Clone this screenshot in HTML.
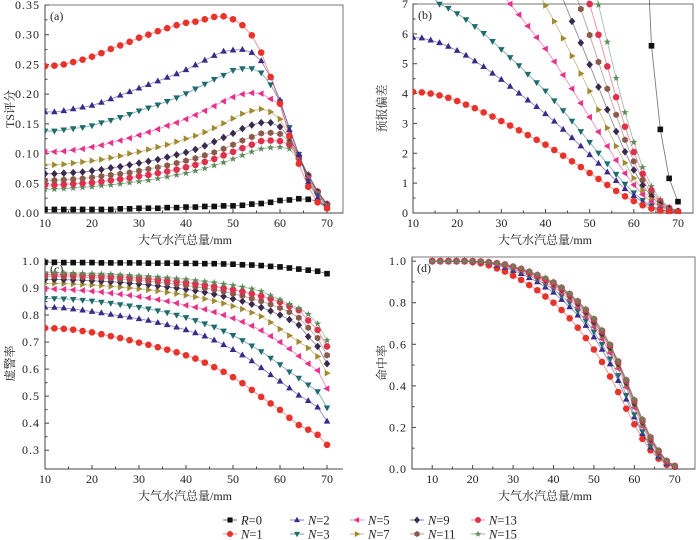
<!DOCTYPE html>
<html><head><meta charset="utf-8">
<style>
html,body{margin:0;padding:0;background:#fff;}
svg{display:block;}
text{font-family:"Liberation Serif","Noto Serif CJK SC",serif;fill:#222;}
.cjk{font-family:"Liberation Serif","Noto Serif CJK SC",serif;}
</style></head>
<body>
<svg id="fig" width="700" height="540" viewBox="0 0 700 540" xmlns="http://www.w3.org/2000/svg"></svg>
<script>
const xVals = [10,12,14,16,18,20,22,24,26,28,30,32,34,36,38,40,42,44,46,48,50,52,54,56,58,60,62,64,66,68,70];
const seriesNames = ['R=0','N=1','N=2','N=3','N=5','N=7','N=9','N=11','N=13','N=15'];
const seriesColors = ['#111111','#e8322a','#3a2a8a','#1f6b6e','#e8308a','#a08a30','#3a2a50','#8a5a4a','#e0304e','#5a8a5a'];
const seriesMarkers = ['square','circle','tri-up','tri-down','tri-left','tri-right','diamond','hexagon','circle','star'];

// Panel (a) TS score
const tsR0 = [.006,.006,.006,.006,.006,.006,.006,.006,.007,.007,.008,.008,.008,.009,.009,.010,.010,.011,.011,.012,.012,.013,.015,.016,.018,.021,.022,.024,.023,.020,.010];
const tsN1 = [.247,.248,.250,.254,.258,.263,.269,.276,.282,.288,.295,.300,.306,.311,.316,.320,.322,.326,.330,.331,.326,.316,.299,.270,.229,.184,.130,.083,.044,.018,.008];
const tsN2 = [.170,.170,.172,.175,.178,.181,.186,.192,.198,.204,.210,.216,.222,.228,.234,.241,.249,.257,.265,.272,.274,.275,.270,.256,.228,.190,.140,.098,.052,.025,.008];
const tsN3 = [.138,.138,.140,.142,.144,.147,.152,.156,.161,.166,.172,.177,.182,.188,.194,.201,.209,.217,.225,.232,.240,.243,.243,.236,.216,.187,.144,.099,.054,.030,.010];
const tsN5 = [.103,.103,.104,.106,.108,.111,.114,.118,.122,.126,.131,.136,.141,.147,.152,.158,.165,.172,.180,.188,.195,.200,.202,.201,.192,.183,.132,.096,.058,.032,.012];
const tsN7 = [.081,.081,.082,.084,.086,.088,.090,.093,.096,.100,.103,.107,.111,.115,.120,.125,.130,.136,.143,.151,.159,.167,.172,.175,.170,.158,.128,.095,.060,.034,.013];
const tsN9 = [.066,.066,.067,.068,.069,.071,.073,.076,.078,.081,.084,.087,.090,.094,.098,.102,.107,.113,.120,.127,.134,.142,.148,.152,.152,.145,.127,.097,.062,.035,.014];
const tsN11 = [.055,.055,.056,.057,.058,.060,.062,.064,.066,.068,.071,.074,.077,.080,.084,.088,.092,.097,.102,.108,.115,.122,.128,.134,.135,.133,.120,.095,.064,.036,.014];
const tsN13 = [.047,.047,.048,.049,.050,.051,.053,.055,.057,.059,.062,.064,.067,.070,.073,.077,.081,.086,.091,.097,.103,.109,.115,.121,.122,.121,.115,.092,.063,.036,.015];
const tsN15 = [.040,.040,.041,.042,.043,.044,.046,.047,.049,.051,.053,.055,.058,.061,.064,.067,.071,.075,.080,.085,.091,.097,.103,.108,.110,.111,.108,.090,.065,.037,.016];

// Panel (b) bias (null = far above the axis)
const biasR0 = [null,null,null,null,null,null,null,null,null,null,null,null,null,null,null,null,null,null,null,null,null,null,null,null,null,null,12,5.60,2.80,1.16,0.38];
const biasN1 = [4.06,4.04,4.00,3.94,3.86,3.75,3.63,3.51,3.37,3.23,3.08,2.93,2.77,2.61,2.45,2.29,2.11,1.92,1.73,1.54,1.34,1.14,0.94,0.74,0.56,0.40,0.26,0.15,0.08,0.04,0.02];
const biasN2 = [5.88,5.86,5.79,5.70,5.58,5.44,5.28,5.09,4.90,4.68,4.47,4.24,4.01,3.78,3.56,3.32,3.07,2.80,2.52,2.24,1.95,1.66,1.37,1.08,0.81,0.58,0.36,0.20,0.10,0.05,0.02];
const biasN3 = [7.8,7.55,7.3,7.0,6.86,6.68,6.48,6.25,6.02,5.75,5.48,5.21,4.94,4.65,4.37,4.09,3.76,3.43,3.08,2.73,2.37,2.01,1.65,1.30,0.97,0.68,0.43,0.24,0.12,0.06,0.03];
const biasN5 = [null,null,null,null,null,null,null,null,null,null,7.35,7.0,6.64,6.26,5.88,5.50,5.07,4.62,4.16,3.68,3.21,2.72,2.24,1.77,1.33,0.94,0.62,0.37,0.20,0.10,0.04];
const biasN7 = [null,null,null,null,null,null,null,null,null,null,null,null,null,null,7.5,6.95,6.42,5.85,5.26,4.67,4.08,3.46,2.85,2.24,1.68,1.17,0.76,0.45,0.24,0.11,0.05];
const biasN9 = [null,null,null,null,null,null,null,null,null,null,null,null,null,null,null,null,8.0,7.15,6.42,5.70,4.97,4.22,3.46,2.73,2.05,1.44,0.93,0.55,0.28,0.13,0.05];
const biasN11 = [null,null,null,null,null,null,null,null,null,null,null,null,null,null,null,null,null,null,7.7,6.83,5.96,5.06,4.16,3.29,2.45,1.73,1.11,0.65,0.34,0.15,0.06];
const biasN13 = [null,null,null,null,null,null,null,null,null,null,null,null,null,null,null,null,null,null,null,8.1,7.0,5.97,4.91,3.88,2.89,2.04,1.31,0.76,0.39,0.17,0.06];
const biasN15 = [null,null,null,null,null,null,null,null,null,null,null,null,null,null,null,null,null,null,null,null,8.2,6.97,5.73,4.52,3.37,2.37,1.53,0.89,0.45,0.19,0.07];

// Panel (c) false alarm ratio
const farR0 = [.995,.995,.994,.994,.994,.994,.993,.993,.993,.993,.993,.992,.992,.992,.992,.991,.991,.990,.990,.989,.988,.986,.985,.983,.980,.978,.974,.970,.966,.962,.953];
const farN1 = [.752,.751,.749,.746,.741,.736,.729,.722,.715,.707,.698,.690,.681,.672,.662,.651,.639,.624,.607,.590,.570,.548,.523,.497,.473,.449,.420,.393,.376,.357,.320];
const farN2 = [.829,.828,.826,.822,.818,.813,.808,.802,.797,.792,.786,.780,.772,.764,.755,.745,.734,.722,.707,.690,.672,.652,.630,.605,.579,.555,.530,.503,.483,.459,.407];
const farN3 = [.862,.861,.860,.858,.855,.852,.848,.844,.839,.834,.829,.823,.816,.809,.800,.791,.780,.768,.756,.741,.725,.706,.686,.665,.641,.617,.590,.567,.542,.517,.457];
const farN5 = [.897,.896,.895,.893,.891,.888,.885,.881,.877,.873,.868,.863,.857,.851,.844,.836,.829,.821,.811,.800,.788,.775,.760,.743,.722,.700,.675,.648,.620,.595,.528];
const farN7 = [.917,.917,.916,.915,.913,.911,.909,.906,.903,.900,.897,.893,.889,.884,.879,.873,.867,.860,.852,.843,.833,.822,.809,.795,.773,.748,.724,.701,.678,.647,.585];
const farN9 = [.932,.932,.931,.930,.929,.927,.925,.923,.921,.918,.915,.912,.908,.904,.900,.895,.890,.884,.877,.869,.860,.851,.840,.828,.815,.800,.783,.763,.720,.684,.620];
const farN11 = [.943,.943,.942,.941,.940,.938,.937,.935,.933,.931,.928,.925,.922,.918,.914,.910,.905,.900,.894,.887,.879,.871,.861,.851,.839,.826,.811,.790,.753,.715,.651];
const farN13 = [.950,.950,.949,.948,.947,.946,.944,.943,.941,.939,.937,.934,.931,.928,.924,.920,.916,.911,.906,.900,.894,.887,.879,.870,.860,.848,.833,.818,.780,.745,.684];
const farN15 = [.957,.957,.956,.955,.954,.953,.952,.951,.949,.947,.945,.943,.941,.938,.935,.932,.928,.924,.920,.915,.910,.904,.897,.888,.872,.857,.840,.825,.803,.768,.706];

// Panel (d) hit rate
const hitN1 = [1,1,1,1,1,.995,.99,.98,.965,.95,.93,.91,.885,.86,.83,.80,.765,.725,.68,.63,.575,.515,.445,.37,.29,.215,.145,.09,.05,.02,.01];
const hitN2 = [1,1,1,1,1,.998,.995,.99,.98,.97,.955,.94,.92,.90,.875,.85,.815,.78,.74,.69,.635,.575,.505,.425,.335,.25,.17,.105,.06,.025,.01];
const hitN3 = [1,1,1,1,1,.998,.996,.992,.984,.975,.962,.948,.93,.91,.888,.865,.833,.80,.76,.713,.66,.60,.53,.45,.355,.262,.18,.11,.06,.027,.01];
const hitN5 = [1,1,1,1,1,.999,.997,.993,.987,.979,.967,.954,.937,.918,.898,.876,.847,.815,.777,.733,.683,.625,.558,.483,.393,.295,.205,.128,.072,.032,.012];
const hitN7 = [1,1,1,1,1,.999,.998,.994,.988,.981,.970,.957,.941,.923,.904,.885,.857,.826,.789,.746,.697,.640,.574,.497,.407,.308,.216,.137,.078,.035,.013];
const hitN9 = [1,1,1,1,1,.999,.998,.995,.989,.982,.971,.959,.944,.927,.909,.890,.864,.833,.797,.755,.707,.651,.585,.507,.416,.317,.225,.143,.082,.037,.014];
const hitN11 = [1,1,1,1,1,1,.998,.995,.990,.983,.973,.961,.946,.930,.912,.895,.868,.838,.803,.762,.716,.660,.593,.514,.423,.325,.231,.148,.085,.038,.014];
const hitN13 = [1,1,1,1,1,1,.998,.995,.990,.984,.974,.963,.949,.933,.915,.897,.872,.842,.807,.766,.721,.665,.597,.517,.427,.330,.236,.152,.088,.039,.015];
const hitN15 = [1,1,1,1,1,1,.998,.995,.990,.985,.975,.965,.952,.937,.920,.900,.875,.845,.810,.770,.725,.670,.600,.520,.430,.335,.240,.155,.090,.040,.015];

const xTicks = [10,20,30,40,50,60,70];
const tsTicks = [0,0.05,0.10,0.15,0.20,0.25,0.30,0.35];
const biasTicks = [0,1,2,3,4,5,6,7];
const farTicks = [0.3,0.4,0.5,0.6,0.7,0.8,0.9,1.0];
const hitTicks = [0,0.2,0.4,0.6,0.8,1.0];

const NS = 'http://www.w3.org/2000/svg';
const fig = document.getElementById('fig');
function mk(tag, attrs, parent){ const e=document.createElementNS(NS,tag); for(const k in attrs) e.setAttribute(k,attrs[k]); (parent||fig).appendChild(e); return e; }

function markerShape(g, type, cx, cy, color, r){
  let e;
  if(type==='square'){ e=mk('rect',{x:cx-r*0.85,y:cy-r*0.85,width:r*1.7,height:r*1.7,fill:color},g); }
  else if(type==='circle'){ e=mk('circle',{cx:cx,cy:cy,r:r,fill:color},g); }
  else {
    let pts=[];
    if(type==='tri-up') pts=[[0,-1.1],[1,0.7],[-1,0.7]];
    else if(type==='tri-down') pts=[[0,1.1],[1,-0.7],[-1,-0.7]];
    else if(type==='tri-left') pts=[[-1.1,0],[0.7,-1],[0.7,1]];
    else if(type==='tri-right') pts=[[1.1,0],[-0.7,-1],[-0.7,1]];
    else if(type==='diamond') pts=[[0,-1.15],[1,0],[0,1.15],[-1,0]];
    else if(type==='hexagon'){ for(let i=0;i<6;i++){const a=Math.PI/6+i*Math.PI/3; pts.push([Math.cos(a),Math.sin(a)]);} }
    else if(type==='star'){ for(let i=0;i<10;i++){const a=-Math.PI/2+i*Math.PI/5; const rr=i%2?0.45:1.15; pts.push([rr*Math.cos(a),rr*Math.sin(a)]);} }
    e=mk('polygon',{points:pts.map(p=>(cx+p[0]*r).toFixed(2)+','+(cy+p[1]*r).toFixed(2)).join(' '),fill:color},g);
  }
  return e;
}

let clipId=0;
function panel(p){
  const g=mk('g',{});
  
  
  const sx=v=>p.L+(v-p.x0)/(p.x1-p.x0)*(p.R-p.L);
  const sy=v=>p.B-(v-p.y0)/(p.y1-p.y0)*(p.B-p.T);
  // frame / axes
  if(p.frame){
    const fr=mk('rect',{x:p.L,y:p.T,width:p.R-p.L,height:p.B-p.T,fill:'none',stroke:'#777','stroke-width':1},g);
    
    
  }
  const xa=mk('line',{x1:p.L,y1:p.B,x2:p.R,y2:p.B,stroke:'#444','stroke-width':1},g);
  
  
  const ya=mk('line',{x1:p.L,y1:p.T,x2:p.L,y2:p.B,stroke:'#444','stroke-width':1},g);
  
  
  // x ticks
  xTicks.forEach(t=>{
    const x=sx(t);
    mk('line',{x1:x,y1:p.B,x2:x,y2:p.B-4,stroke:'#444'},g);
    const mx=sx(t+5); if(mx<p.R-1&&mx>p.L) mk('line',{x1:mx,y1:p.B,x2:mx,y2:p.B-2.5,stroke:'#444'},g);
    if(t===10 && sx(5)>p.L) mk('line',{x1:sx(5),y1:p.B,x2:sx(5),y2:p.B-2.5,stroke:'#444'},g);
    const tl=mk('text',{x:x,y:p.B+14,'text-anchor':'middle','font-size':12},g);
    tl.textContent=t;
    
    
  });
  // y ticks
  p.yTicks.forEach((t,i)=>{
    const y=sy(t);
    mk('line',{x1:p.L,y1:y,x2:p.L+4,y2:y,stroke:'#444'},g);
    if(i<p.yTicks.length-1){ const my=sy((t+p.yTicks[i+1])/2); mk('line',{x1:p.L,y1:my,x2:p.L+2.5,y2:my,stroke:'#444'},g); }
    const tl=mk('text',{x:p.L-5,y:y+4,'text-anchor':'end','font-size':12,'letter-spacing':p.ls||0},g);
    tl.textContent=t.toFixed(p.dec);
    
    
  });
  // titles
  const xt=mk('text',{x:(p.L+p.xtc),y:p.B+31,'text-anchor':'middle','font-size':12,class:'cjk'},g);
  xt.textContent='大气水汽总量/mm';
  
  
  const yt=mk('text',{x:0,y:0,'text-anchor':'middle','font-size':12,class:'cjk',transform:`translate(${p.ytx},${(p.T+p.B)/2}) rotate(-90)`},g);
  yt.textContent=p.ytitle;
  
  
  const pl=mk('text',{x:p.L+5,y:p.T+15,'font-size':12},g);
  pl.textContent=p.label;
  
  
  // clip
  const cid='clip'+(clipId++);
  const cp=mk('clipPath',{id:cid},g);
  mk('rect',{x:p.L,y:p.T-5,width:p.R-p.L+5,height:p.B-p.T+6},cp);
  const sg=mk('g',{'clip-path':`url(#${cid})`},g);
  p.series.forEach(s=>{
    const idx=seriesNames.indexOf(s.name);
    const col=seriesColors[idx];
    const sgg=mk('g',{},sg);
    
    
    let d='', pen=false;
    xVals.forEach((xv,i)=>{ const v=s.data[i]; if(v===null||v===undefined){pen=false;return;} d+=(pen?'L':'M')+sx(xv).toFixed(2)+','+sy(v).toFixed(2); pen=true; });
    mk('path',{d:d,fill:'none',stroke:col,'stroke-opacity':0.55,'stroke-width':0.9},sgg);
    xVals.forEach((xv,i)=>{ const v=s.data[i]; if(v===null||v===undefined) return; if(v>p.y1+0.02*(p.y1-p.y0)) return;
      const m=markerShape(sgg,seriesMarkers[idx],sx(xv),sy(v),col,3.3);
      
      
    });
  });
}

panel({name:'panel-a-ts-score',L:45,R:343,T:5,B:213,x0:10,x1:73.4,y0:0,y1:0.35,yTicks:tsTicks,dec:2,ls:1,ytitle:'TS评分',ytx:14,xtc:140,label:'(a)',frame:true,
  series:[{name:'R=0',data:tsR0},{name:'N=15',data:tsN15},{name:'N=13',data:tsN13},{name:'N=11',data:tsN11},{name:'N=9',data:tsN9},{name:'N=7',data:tsN7},{name:'N=5',data:tsN5},{name:'N=3',data:tsN3},{name:'N=2',data:tsN2},{name:'N=1',data:tsN1}]});
panel({name:'panel-b-bias',L:413,R:693,T:4,B:213,x0:10,x1:73.4,y0:0,y1:7,yTicks:biasTicks,dec:0,ytitle:'预报偏差',ytx:386,xtc:132,label:'(b)',frame:true,
  series:[{name:'R=0',data:biasR0},{name:'N=15',data:biasN15},{name:'N=13',data:biasN13},{name:'N=11',data:biasN11},{name:'N=9',data:biasN9},{name:'N=7',data:biasN7},{name:'N=5',data:biasN5},{name:'N=3',data:biasN3},{name:'N=2',data:biasN2},{name:'N=1',data:biasN1}]});
panel({name:'panel-c-false-alarm',L:45,R:343,T:258,B:469,x0:10,x1:73.4,y0:0.2305,y1:1.011,yTicks:farTicks,dec:1,ls:1,ytitle:'虚警率',ytx:14,xtc:140,label:'(c)',frame:false,
  series:[{name:'N=1',data:farN1},{name:'N=2',data:farN2},{name:'N=3',data:farN3},{name:'N=5',data:farN5},{name:'N=7',data:farN7},{name:'N=9',data:farN9},{name:'N=11',data:farN11},{name:'N=13',data:farN13},{name:'N=15',data:farN15},{name:'R=0',data:farR0}]});
panel({name:'panel-d-hit-rate',L:412,R:695,T:257,B:469,x0:5,x1:75,y0:0,y1:1.02,yTicks:hitTicks,dec:1,ls:1,ytitle:'命中率',ytx:386,xtc:133,label:'(d)',frame:true,
  series:[{name:'N=1',data:hitN1},{name:'N=2',data:hitN2},{name:'N=3',data:hitN3},{name:'N=5',data:hitN5},{name:'N=7',data:hitN7},{name:'N=9',data:hitN9},{name:'N=11',data:hitN11},{name:'N=13',data:hitN13},{name:'N=15',data:hitN15}]});

// legend
const legendCols = [230,297,357,417,478];
const lg=mk('g',{});


seriesNames.forEach((n,i)=>{
  const col = Math.floor(i/2), row = i%2;
  const x=legendCols[col], y=row?534:520;
  const eg=mk('g',{},lg);
  
  
  mk('line',{x1:x-7,y1:y,x2:x+7,y2:y,stroke:seriesColors[i],'stroke-opacity':0.6,'stroke-width':1},eg);
  markerShape(eg,seriesMarkers[i],x,y,seriesColors[i],3);
  const t=mk('text',{x:x+11,y:y+4.5,'font-size':12.5},eg);
  const it=mk('tspan',{'font-style':'italic'},t); it.textContent=n[0];
  const rest=mk('tspan',{},t); rest.textContent=n.slice(1);
});
</script>
</body></html>
